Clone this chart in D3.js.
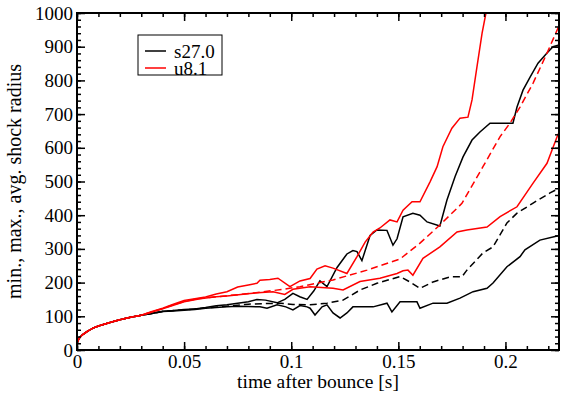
<!DOCTYPE html>
<html>
<head>
<meta charset="utf-8">
<script src="https://cdn.jsdelivr.net/npm/d3@7"></script>
<style>
  body { margin: 0; background: #fff; }
  svg { display: block; }
  text { font-family: "Liberation Serif", "Times New Roman", serif; }
</style>
</head>
<body>
<svg id="chart"></svg>
<script>
// time after bounce [s], shock radius [km]
const early = [[0, 20], [0.001, 35], [0.0025, 45], [0.005, 56], [0.0075, 65], [0.01, 71],
  [0.015, 81], [0.02, 90], [0.025, 97], [0.03, 103]];

const s27Max = early.concat([[0.035, 109], [0.04, 115], [0.045, 117], [0.05, 120], [0.055, 122],
  [0.06, 126], [0.065, 131], [0.07, 134], [0.075, 139], [0.08, 143], [0.084, 150], [0.088, 148],
  [0.0934, 140], [0.097, 150], [0.1008, 168], [0.104, 158], [0.1074, 150], [0.1105, 175],
  [0.1134, 205], [0.1167, 188], [0.1214, 245], [0.126, 285], [0.1288, 295], [0.1307, 292],
  [0.133, 265], [0.1368, 340], [0.14, 356], [0.1447, 355], [0.1475, 311], [0.1494, 330],
  [0.1522, 395], [0.1568, 406], [0.1601, 400], [0.1634, 380], [0.1694, 368], [0.1727, 445],
  [0.1765, 515], [0.1802, 573], [0.1844, 623], [0.1881, 647], [0.1928, 673], [0.2035, 673],
  [0.2054, 721], [0.2082, 771], [0.2115, 810], [0.2152, 851], [0.2194, 881], [0.2222, 900],
  [0.225, 905]]);

const s27Min = early.concat([[0.035, 108], [0.04, 114], [0.045, 116], [0.05, 118], [0.055, 120],
  [0.06, 124], [0.065, 126], [0.07, 128], [0.075, 130], [0.08, 129], [0.0854, 128], [0.0887, 124],
  [0.0934, 134], [0.0975, 128], [0.1008, 119], [0.1041, 132], [0.1074, 128], [0.1088, 124],
  [0.1111, 104], [0.1144, 128], [0.1167, 134], [0.1195, 110], [0.1228, 95], [0.126, 110],
  [0.1288, 128], [0.1382, 128], [0.1447, 139], [0.147, 113], [0.1508, 143], [0.1587, 143],
  [0.1601, 124], [0.1662, 139], [0.1727, 139], [0.1788, 154], [0.1849, 173], [0.1914, 183],
  [0.1942, 199], [0.2007, 247], [0.2068, 277], [0.2091, 297], [0.2161, 326], [0.2241, 338],
  [0.225, 340]]);

const s27Avg = early.concat([[0.035, 108], [0.04, 114], [0.045, 117], [0.05, 119], [0.06, 125],
  [0.07, 130], [0.08, 136], [0.09, 138], [0.0948, 139], [0.1008, 135], [0.1088, 134],
  [0.1167, 139], [0.1242, 148], [0.1321, 178], [0.14, 198], [0.1508, 218], [0.1554, 202],
  [0.1601, 183], [0.1662, 202], [0.1741, 217], [0.1797, 217], [0.182, 237], [0.1895, 288],
  [0.1942, 306], [0.2007, 377], [0.2054, 406], [0.2129, 436], [0.2208, 466], [0.225, 480]]);

const u81Max = early.concat([[0.035, 114], [0.04, 124], [0.045, 136], [0.05, 147], [0.055, 152],
  [0.06, 157], [0.065, 166], [0.07, 173], [0.075, 187], [0.08, 193], [0.084, 198], [0.0854, 207],
  [0.09, 209], [0.0938, 213], [0.0994, 188], [0.1041, 205], [0.1088, 212], [0.112, 240],
  [0.1158, 250], [0.1195, 243], [0.126, 227], [0.1307, 277], [0.1345, 320], [0.1382, 350],
  [0.1414, 362], [0.1461, 386], [0.1494, 380], [0.1522, 415], [0.1564, 440], [0.1601, 440],
  [0.1648, 499], [0.1681, 544], [0.1708, 603], [0.175, 658], [0.1788, 688], [0.1825, 691],
  [0.1844, 742], [0.1867, 840], [0.1891, 940], [0.1909, 1000], [0.192, 1030]]);

const u81Min = early.concat([[0.035, 113], [0.04, 122], [0.045, 133], [0.05, 143], [0.0574, 152],
  [0.065, 158], [0.07, 160], [0.0808, 168], [0.0915, 173], [0.097, 165], [0.1008, 180],
  [0.1088, 188], [0.1195, 183], [0.1242, 178], [0.1321, 203], [0.1414, 213], [0.1494, 227],
  [0.1522, 235], [0.1545, 237], [0.1568, 222], [0.1615, 272], [0.1694, 306], [0.1774, 350],
  [0.182, 356], [0.1914, 365], [0.1975, 396], [0.2054, 425], [0.2129, 495], [0.2194, 554],
  [0.2241, 633], [0.225, 645]]);

const u81Avg = early.concat([[0.035, 113], [0.04, 123], [0.045, 134], [0.05, 144], [0.0574, 153],
  [0.07, 161], [0.0808, 168], [0.0962, 180], [0.1041, 188], [0.1195, 208], [0.1354, 237],
  [0.1508, 270], [0.1601, 317], [0.1694, 371], [0.1797, 435], [0.1895, 544], [0.1975, 633],
  [0.2021, 673], [0.2068, 721], [0.2129, 792], [0.2194, 881], [0.225, 962]]);

const xTicks = [0, 0.05, 0.1, 0.15, 0.2];
const xTickLabels = ["0", "0.05", "0.1", "0.15", "0.2"];
const yTicks = [0, 100, 200, 300, 400, 500, 600, 700, 800, 900, 1000];

const legendNames = ["s27.0", "u8.1"];
const legendColors = ["#000000", "#ff0000"];

const width = 561, height = 393;
const pLeft = 77, pRight = 559, pTop = 13, pBottom = 350;
const serif = "'Liberation Serif', 'Times New Roman', serif";

const svg = d3.select("#chart").attr("width", width).attr("height", height);

const x = d3.scaleLinear().domain([0, 0.225]).range([pLeft, pRight]);
const y = d3.scaleLinear().domain([0, 1000]).range([pBottom, pTop]);

svg.append("defs").append("clipPath").attr("id", "clip")
  .append("rect").attr("x", pLeft).attr("y", pTop)
  .attr("width", pRight - pLeft).attr("height", pBottom - pTop);

const line = d3.line().x(d => x(d[0])).y(d => y(d[1]));

const series = [
  { data: s27Min, color: "#000000", dash: null },
  { data: s27Max, color: "#000000", dash: null },
  { data: s27Avg, color: "#000000", dash: "7,4" },
  { data: u81Min, color: "#ff0000", dash: null },
  { data: u81Max, color: "#ff0000", dash: null },
  { data: u81Avg, color: "#ff0000", dash: "7,4" }
];

svg.append("g").attr("clip-path", "url(#clip)")
  .selectAll("path")
  .data(series)
  .join("path")
  .attr("d", d => line(d.data))
  .attr("fill", "none")
  .attr("stroke", d => d.color)
  .attr("stroke-width", 1.5)
  .attr("stroke-dasharray", d => d.dash);

// minor ticks on all four sides, pointing inwards
const xMinor = d3.range(0, 0.2251, 0.01);
const yMinor = d3.range(0, 1001, 20);

function styleAxis(g) {
  g.select(".domain").remove();
  g.attr("font-family", serif);
  g.selectAll(".tick line").attr("stroke", "#000").attr("stroke-width", 1.5);
  g.selectAll(".tick text")
    .style("font-family", serif)
    .attr("font-size", 19)
    .attr("fill", "#000");
}

svg.append("g").attr("transform", `translate(0,${pBottom})`)
  .call(d3.axisBottom(x).tickValues(xMinor).tickSize(-4).tickFormat(""))
  .call(styleAxis);
svg.append("g").attr("transform", `translate(0,${pTop})`)
  .call(d3.axisTop(x).tickValues(xMinor).tickSize(-4).tickFormat(""))
  .call(styleAxis);
svg.append("g").attr("transform", `translate(${pLeft},0)`)
  .call(d3.axisLeft(y).tickValues(yMinor).tickSize(-4).tickFormat(""))
  .call(styleAxis);
svg.append("g").attr("transform", `translate(${pRight},0)`)
  .call(d3.axisRight(y).tickValues(yMinor).tickSize(-4).tickFormat(""))
  .call(styleAxis);

// major ticks
svg.append("g").attr("transform", `translate(0,${pBottom})`)
  .call(d3.axisBottom(x).tickValues(xTicks).tickSizeInner(-8).tickSizeOuter(0).tickPadding(5)
    .tickFormat((d, i) => xTickLabels[i]))
  .call(styleAxis);
svg.append("g").attr("transform", `translate(0,${pTop})`)
  .call(d3.axisTop(x).tickValues(xTicks).tickSize(-8).tickFormat(""))
  .call(styleAxis);
svg.append("g").attr("transform", `translate(${pLeft},0)`)
  .call(d3.axisLeft(y).tickValues(yTicks).tickSizeInner(-8).tickSizeOuter(0).tickPadding(4)
    .tickFormat(d3.format("d")))
  .call(styleAxis);
svg.append("g").attr("transform", `translate(${pRight},0)`)
  .call(d3.axisRight(y).tickValues(yTicks).tickSize(-8).tickFormat(""))
  .call(styleAxis);

// frame
svg.append("rect")
  .attr("x", pLeft).attr("y", pTop)
  .attr("width", pRight - pLeft).attr("height", pBottom - pTop)
  .attr("fill", "none").attr("stroke", "#000").attr("stroke-width", 2);

// axis titles
svg.append("text")
  .attr("x", (pLeft + pRight) / 2).attr("y", 388)
  .attr("text-anchor", "middle").attr("font-size", 19.5)
  .style("font-family", serif)
  .text("time after bounce [s]");

svg.append("text")
  .attr("transform", `translate(21,${(pTop + pBottom) / 2}) rotate(-90)`)
  .attr("text-anchor", "middle").attr("font-size", 20)
  .style("font-family", serif)
  .text("min., max., avg. shock radius");

// legend
const legend = svg.append("g");
legend.append("rect")
  .attr("x", 138).attr("y", 35).attr("width", 84).attr("height", 40)
  .attr("fill", "#fff").attr("stroke", "#000").attr("stroke-width", 1);
legendNames.forEach((name, i) => {
  legend.append("line")
    .attr("x1", 145).attr("x2", 166)
    .attr("y1", 51 + i * 17).attr("y2", 51 + i * 17)
    .attr("stroke", legendColors[i]).attr("stroke-width", 1.5);
  legend.append("text")
    .attr("x", 174).attr("y", 57.5 + i * 17)
    .attr("font-size", 19)
    .style("font-family", serif)
    .text(name);
});
</script>
</body>
</html>
